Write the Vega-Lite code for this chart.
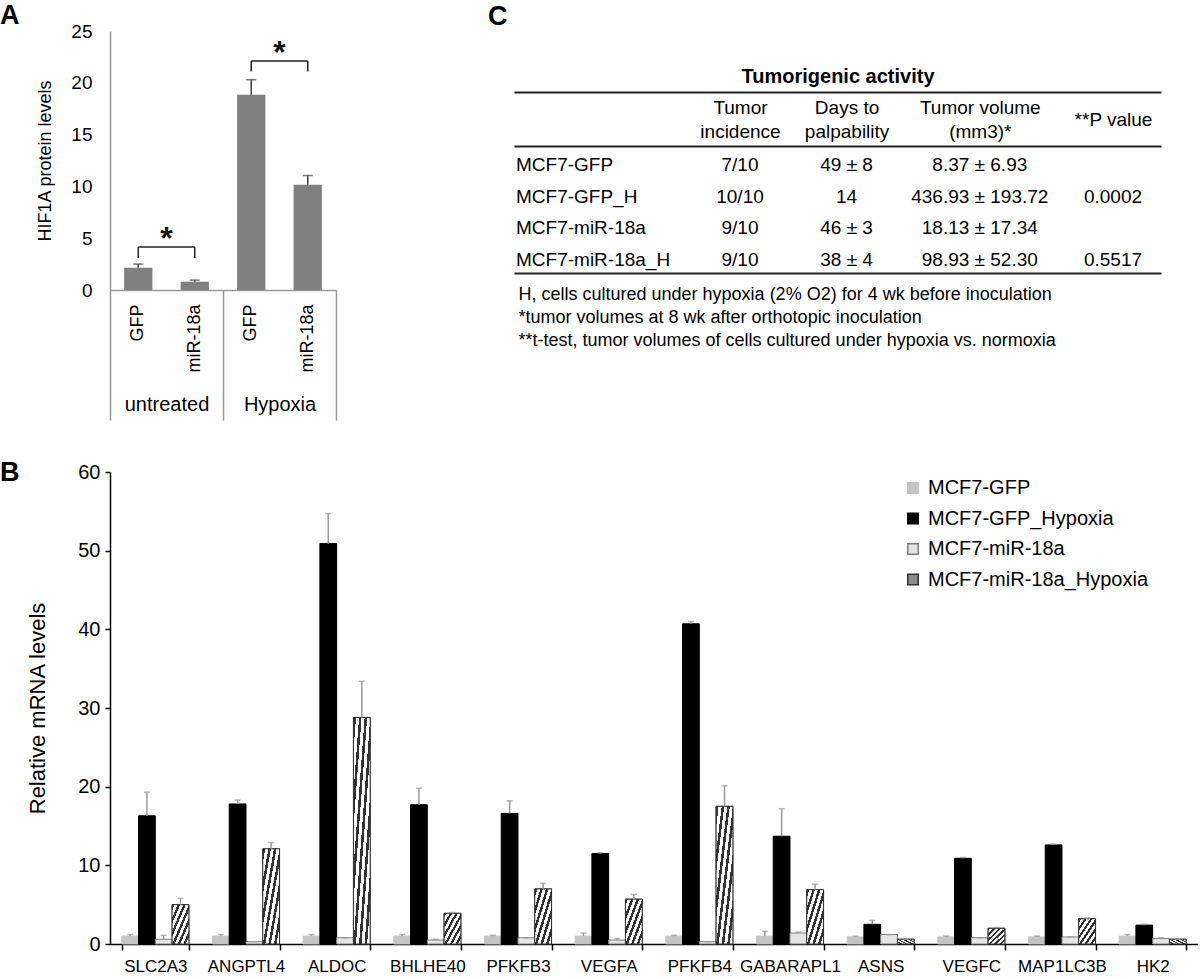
{
  "$schema": "https://vega.github.io/schema/vega-lite/v6.json",
  "padding": {"top": 2, "left": 0, "right": 0, "bottom": 0},
  "background": "white",
  "config": {
    "font": "Liberation Sans",
    "view": {"stroke": null},
    "axis": {"labelColor": "#000", "titleColor": "#000", "grid": false, "labelFont": "Liberation Sans", "titleFont": "Liberation Sans", "titleFontWeight": "normal"},
    "title": {"font": "Liberation Sans", "fontWeight": "bold", "fontSize": 27, "anchor": "start", "frame": "group", "color": "#000"}
  },
  "spacing": 38,
  "vconcat": [
    {
      "spacing": 151,
      "hconcat": [
        {
          "width": 226,
          "height": 259,
          "title": {"text": "A", "dx": -110, "offset": -8},
          "layer": [
            {
              "layer": [
                {
                  "data": {"values": [
                    {"key": "untreated|GFP", "value": 2.15, "hi": 2.5},
                    {"key": "untreated|miR-18a", "value": 0.8, "hi": 0.95},
                    {"key": "Hypoxia|GFP", "value": 18.85, "hi": 20.3},
                    {"key": "Hypoxia|miR-18a", "value": 10.15, "hi": 11.05}
                  ]},
                  "mark": {"type": "bar", "color": "#808080"},
                  "encoding": {
                    "x": {"field": "key", "type": "nominal", "sort": null,
                      "scale": {"domain": ["untreated|GFP", "untreated|miR-18a", "Hypoxia|GFP", "Hypoxia|miR-18a"], "paddingInner": 0.5, "paddingOuter": 0.25},
                      "axis": {"orient": "bottom", "title": null, "labelExpr": "split(datum.label, '|')[1]", "labelAngle": -90, "labelFontSize": 18, "labelPadding": 14, "ticks": false, "domainColor": "#999", "domainWidth": 1.5}},
                    "y": {"field": "value", "type": "quantitative", "scale": {"domain": [0, 25], "nice": false},
                      "axis": {"title": "HIF1A protein levels", "values": [0, 5, 10, 15, 20, 25], "ticks": false, "labelFontSize": 19, "labelPadding": 18, "titleFontSize": 18, "titlePadding": 16, "domainColor": "#999", "domainWidth": 1.5}}
                  }
                },
                {
                  "data": {"values": [
                    {"key": "untreated|GFP", "value": 2.15, "hi": 2.5},
                    {"key": "untreated|miR-18a", "value": 0.8, "hi": 0.95},
                    {"key": "Hypoxia|GFP", "value": 18.85, "hi": 20.3},
                    {"key": "Hypoxia|miR-18a", "value": 10.15, "hi": 11.05}
                  ]},
                  "mark": {"type": "rule", "color": "#404040", "strokeWidth": 1.5},
                  "encoding": {
                    "x": {"field": "key", "type": "nominal", "sort": null},
                    "y": {"field": "value", "type": "quantitative"},
                    "y2": {"field": "hi"}
                  }
                },
                {
                  "data": {"values": [
                    {"key": "untreated|GFP", "value": 2.15, "hi": 2.5},
                    {"key": "untreated|miR-18a", "value": 0.8, "hi": 0.95},
                    {"key": "Hypoxia|GFP", "value": 18.85, "hi": 20.3},
                    {"key": "Hypoxia|miR-18a", "value": 10.15, "hi": 11.05}
                  ]},
                  "mark": {"type": "tick", "color": "#404040", "thickness": 1.5, "size": 10},
                  "encoding": {
                    "x": {"field": "key", "type": "nominal", "sort": null},
                    "y": {"field": "hi", "type": "quantitative"}
                  }
                },
                {
                  "data": {"values": [
                    {"grp": "untreated", "from": "untreated|GFP", "to": "untreated|miR-18a", "top": 4.15, "bot": 3.1},
                    {"grp": "Hypoxia", "from": "Hypoxia|GFP", "to": "Hypoxia|miR-18a", "top": 22.1, "bot": 21.1}
                  ]},
                  "mark": {"type": "rule", "color": "#222", "strokeWidth": 1.5},
                  "encoding": {
                    "x": {"field": "from", "type": "nominal", "sort": null},
                    "x2": {"field": "to"},
                    "y": {"field": "top", "type": "quantitative"}
                  }
                },
                {
                  "data": {"values": [
                    {"grp": "untreated", "from": "untreated|GFP", "to": "untreated|miR-18a", "top": 4.15, "bot": 3.1},
                    {"grp": "Hypoxia", "from": "Hypoxia|GFP", "to": "Hypoxia|miR-18a", "top": 22.1, "bot": 21.1}
                  ]},
                  "mark": {"type": "rule", "color": "#222", "strokeWidth": 1.5},
                  "encoding": {
                    "x": {"field": "from", "type": "nominal", "sort": null},
                    "y": {"field": "top", "type": "quantitative"},
                    "y2": {"field": "bot"}
                  }
                },
                {
                  "data": {"values": [
                    {"grp": "untreated", "from": "untreated|GFP", "to": "untreated|miR-18a", "top": 4.15, "bot": 3.1},
                    {"grp": "Hypoxia", "from": "Hypoxia|GFP", "to": "Hypoxia|miR-18a", "top": 22.1, "bot": 21.1}
                  ]},
                  "mark": {"type": "rule", "color": "#222", "strokeWidth": 1.5},
                  "encoding": {
                    "x": {"field": "to", "type": "nominal", "sort": null},
                    "y": {"field": "top", "type": "quantitative"},
                    "y2": {"field": "bot"}
                  }
                }
              ]
            },
            {
              "data": {"values": [
                {"grp": "untreated", "star": 4.9},
                {"grp": "Hypoxia", "star": 22.9}
              ]},
              "mark": {"type": "text", "text": "*", "fontSize": 32, "fontWeight": "bold", "baseline": "middle", "color": "#111"},
              "encoding": {
                "x": {"field": "grp", "type": "nominal", "sort": null,
                  "scale": {"domain": ["untreated", "Hypoxia"], "paddingInner": 0, "paddingOuter": 0},
                  "axis": {"orient": "bottom", "title": null, "domain": false, "ticks": true, "tickBand": "extent", "tickSize": 130, "tickColor": "#999", "tickWidth": 1.5, "labelAngle": 0, "labelFontSize": 20, "labelPadding": -26}},
                "y": {"field": "star", "type": "quantitative"}
              }
            }
          ],
          "resolve": {"scale": {"x": "independent"}}
        },
        {
          "width": 647,
          "height": 242,
          "title": {"text": "C", "dx": -26, "offset": 0},
          "data": {"values": [
            {"row": "MCF7-GFP", "col": "inc", "text": "7/10"},
            {"row": "MCF7-GFP", "col": "days", "text": "49 ± 8"},
            {"row": "MCF7-GFP", "col": "vol", "text": "8.37 ± 6.93"},
            {"row": "MCF7-GFP", "col": "p", "text": ""},
            {"row": "MCF7-GFP_H", "col": "inc", "text": "10/10"},
            {"row": "MCF7-GFP_H", "col": "days", "text": "14"},
            {"row": "MCF7-GFP_H", "col": "vol", "text": "436.93 ± 193.72"},
            {"row": "MCF7-GFP_H", "col": "p", "text": "0.0002"},
            {"row": "MCF7-miR-18a", "col": "inc", "text": "9/10"},
            {"row": "MCF7-miR-18a", "col": "days", "text": "46 ± 3"},
            {"row": "MCF7-miR-18a", "col": "vol", "text": "18.13 ± 17.34"},
            {"row": "MCF7-miR-18a", "col": "p", "text": ""},
            {"row": "MCF7-miR-18a_H", "col": "inc", "text": "9/10"},
            {"row": "MCF7-miR-18a_H", "col": "days", "text": "38 ± 4"},
            {"row": "MCF7-miR-18a_H", "col": "vol", "text": "98.93 ± 52.30"},
            {"row": "MCF7-miR-18a_H", "col": "p", "text": "0.5517"}
          ]},
          "encoding": {
            "y": {"field": "row", "type": "nominal", "sort": null,
              "scale": {"type": "band", "domain": ["MCF7-GFP", "MCF7-GFP_H", "MCF7-miR-18a", "MCF7-miR-18a_H"], "range": [115, 242], "paddingInner": 0, "paddingOuter": 0},
              "axis": null}
          },
          "layer": [
            {
              "mark": {"type": "text", "fontSize": 19, "dy": 3, "color": "#000"},
              "encoding": {
                "x": {"field": "col", "type": "nominal",
                  "scale": {"type": "point", "domain": ["inc", "s1", "s2", "s3", "days", "s4", "s5", "s6", "s7", "vol", "s8", "s9", "s10", "s11", "p"], "range": [226, 599], "padding": 0},
                  "axis": {"orient": "top", "offset": -115, "values": ["inc", "days", "vol"], "labelExpr": "datum.value == 'inc' ? ['Tumor', 'incidence'] : datum.value == 'days' ? ['Days to', 'palpability'] : ['Tumor volume', '(mm3)*']", "labelFontSize": 19, "labelLineHeight": 24, "labelBaseline": "middle", "labelPadding": 39, "labelAngle": 0, "ticks": false, "domain": false, "title": null}},
                "text": {"field": "text"}
              }
            },
            {
              "mark": {"type": "text", "opacity": 0},
              "encoding": {
                "x": {"field": "col", "type": "nominal",
                  "scale": {"type": "point", "domain": ["inc", "s1", "s2", "s3", "days", "s4", "s5", "s6", "s7", "vol", "s8", "s9", "s10", "s11", "p"], "range": [226, 599], "padding": 0},
                  "axis": {"orient": "top", "offset": -115, "values": ["p"], "labelExpr": "'**P value'", "labelFontSize": 19, "labelBaseline": "middle", "labelPadding": 27, "labelAngle": 0, "ticks": false, "domain": false, "title": null}},
                "text": {"field": "text"}
              }
            },
            {
              "transform": [{"filter": "datum.col == 'inc'"}],
              "mark": {"type": "text", "fontSize": 19, "dy": 3, "dx": 2, "align": "left", "color": "#000"},
              "encoding": {
                "x": {"datum": "name", "type": "nominal", "scale": {"type": "point", "domain": ["name"], "padding": 0, "align": 0}, "axis": null},
                "text": {"field": "row"}
              }
            },
            {
              "mark": {"type": "text", "opacity": 0},
              "encoding": {
                "x": {"field": "col", "type": "nominal",
                  "axis": {"orient": "top", "offset": -115, "labels": false, "ticks": false, "domainColor": "#222", "domainWidth": 2, "title": null}},
                "text": {"field": "text"}
              }
            },
            {
              "mark": {"type": "text", "opacity": 0},
              "encoding": {
                "x": {"field": "col", "type": "nominal",
                  "axis": {"orient": "top", "offset": -61, "labels": false, "ticks": false, "domainColor": "#222", "domainWidth": 2, "title": "Tumorigenic activity", "titleFontSize": 20, "titleFontWeight": "bold", "titlePadding": 6}},
                "text": {"field": "text"}
              }
            },
            {
              "mark": {"type": "text", "opacity": 0},
              "encoding": {
                "x": {"field": "col", "type": "nominal",
                  "axis": {"orient": "bottom", "labels": false, "ticks": false, "domainColor": "#222", "domainWidth": 2,
                    "title": ["H, cells cultured under hypoxia (2% O2) for 4 wk before inoculation", "*tumor volumes at 8 wk after orthotopic inoculation", "**t-test, tumor volumes of cells cultured under hypoxia vs. normoxia"],
                    "titleAnchor": "start", "titleAlign": "left", "titleFontSize": 18, "titleLineHeight": 23, "titlePadding": 12, "titleX": 4}},
                "text": {"field": "text"}
              }
            }
          ],
          "resolve": {"scale": {"x": "independent"}, "axis": {"x": "independent"}}
        }
      ]
    },
    {
      "width": 1088,
      "height": 472,
      "title": {"text": "B", "dx": -110, "offset": -25},
      "data": {"values": [
        {"gene": "SLC2A3", "series": "MCF7-GFP", "value": 1.0, "hi": 1.2},
        {"gene": "SLC2A3", "series": "MCF7-GFP_Hypoxia", "value": 16.3, "hi": 19.3},
        {"gene": "SLC2A3", "series": "MCF7-miR-18a", "value": 0.6, "hi": 1.1},
        {"gene": "SLC2A3", "series": "MCF7-miR-18a_Hypoxia", "value": 5.0, "hi": 5.8},
        {"gene": "ANGPTL4", "series": "MCF7-GFP", "value": 1.0, "hi": 1.2},
        {"gene": "ANGPTL4", "series": "MCF7-GFP_Hypoxia", "value": 17.8, "hi": 18.3},
        {"gene": "ANGPTL4", "series": "MCF7-miR-18a", "value": 0.3, "hi": 0.3},
        {"gene": "ANGPTL4", "series": "MCF7-miR-18a_Hypoxia", "value": 12.1, "hi": 12.9},
        {"gene": "ALDOC", "series": "MCF7-GFP", "value": 1.0, "hi": 1.2},
        {"gene": "ALDOC", "series": "MCF7-GFP_Hypoxia", "value": 50.9, "hi": 54.7},
        {"gene": "ALDOC", "series": "MCF7-miR-18a", "value": 0.8, "hi": 0.8},
        {"gene": "ALDOC", "series": "MCF7-miR-18a_Hypoxia", "value": 28.8, "hi": 33.4},
        {"gene": "BHLHE40", "series": "MCF7-GFP", "value": 1.0, "hi": 1.2},
        {"gene": "BHLHE40", "series": "MCF7-GFP_Hypoxia", "value": 17.7, "hi": 19.8},
        {"gene": "BHLHE40", "series": "MCF7-miR-18a", "value": 0.5, "hi": 0.6},
        {"gene": "BHLHE40", "series": "MCF7-miR-18a_Hypoxia", "value": 3.9, "hi": 4.0},
        {"gene": "PFKFB3", "series": "MCF7-GFP", "value": 1.0, "hi": 1.1},
        {"gene": "PFKFB3", "series": "MCF7-GFP_Hypoxia", "value": 16.6, "hi": 18.2},
        {"gene": "PFKFB3", "series": "MCF7-miR-18a", "value": 0.8, "hi": 0.8},
        {"gene": "PFKFB3", "series": "MCF7-miR-18a_Hypoxia", "value": 7.0, "hi": 7.7},
        {"gene": "VEGFA", "series": "MCF7-GFP", "value": 1.0, "hi": 1.4},
        {"gene": "VEGFA", "series": "MCF7-GFP_Hypoxia", "value": 11.5, "hi": 11.6},
        {"gene": "VEGFA", "series": "MCF7-miR-18a", "value": 0.5, "hi": 0.7},
        {"gene": "VEGFA", "series": "MCF7-miR-18a_Hypoxia", "value": 5.7, "hi": 6.3},
        {"gene": "PFKFB4", "series": "MCF7-GFP", "value": 1.0, "hi": 1.1},
        {"gene": "PFKFB4", "series": "MCF7-GFP_Hypoxia", "value": 40.7, "hi": 41.0},
        {"gene": "PFKFB4", "series": "MCF7-miR-18a", "value": 0.3, "hi": 0.3},
        {"gene": "PFKFB4", "series": "MCF7-miR-18a_Hypoxia", "value": 17.5, "hi": 20.1},
        {"gene": "GABARAPL1", "series": "MCF7-GFP", "value": 1.0, "hi": 1.6},
        {"gene": "GABARAPL1", "series": "MCF7-GFP_Hypoxia", "value": 13.7, "hi": 17.2},
        {"gene": "GABARAPL1", "series": "MCF7-miR-18a", "value": 1.4, "hi": 1.5},
        {"gene": "GABARAPL1", "series": "MCF7-miR-18a_Hypoxia", "value": 6.9, "hi": 7.6},
        {"gene": "ASNS", "series": "MCF7-GFP", "value": 0.9, "hi": 1.0},
        {"gene": "ASNS", "series": "MCF7-GFP_Hypoxia", "value": 2.5, "hi": 3.0},
        {"gene": "ASNS", "series": "MCF7-miR-18a", "value": 1.2, "hi": 1.2},
        {"gene": "ASNS", "series": "MCF7-miR-18a_Hypoxia", "value": 0.6, "hi": 0.6},
        {"gene": "VEGFC", "series": "MCF7-GFP", "value": 0.9, "hi": 1.0},
        {"gene": "VEGFC", "series": "MCF7-GFP_Hypoxia", "value": 10.9, "hi": 11.0},
        {"gene": "VEGFC", "series": "MCF7-miR-18a", "value": 0.8, "hi": 0.8},
        {"gene": "VEGFC", "series": "MCF7-miR-18a_Hypoxia", "value": 2.0, "hi": 2.1},
        {"gene": "MAP1LC3B", "series": "MCF7-GFP", "value": 0.9, "hi": 1.0},
        {"gene": "MAP1LC3B", "series": "MCF7-GFP_Hypoxia", "value": 12.6, "hi": 12.7},
        {"gene": "MAP1LC3B", "series": "MCF7-miR-18a", "value": 0.9, "hi": 0.9},
        {"gene": "MAP1LC3B", "series": "MCF7-miR-18a_Hypoxia", "value": 3.2, "hi": 3.3},
        {"gene": "HK2", "series": "MCF7-GFP", "value": 1.0, "hi": 1.2},
        {"gene": "HK2", "series": "MCF7-GFP_Hypoxia", "value": 2.4, "hi": 2.5},
        {"gene": "HK2", "series": "MCF7-miR-18a", "value": 0.7, "hi": 0.8},
        {"gene": "HK2", "series": "MCF7-miR-18a_Hypoxia", "value": 0.6, "hi": 0.6}
      ]},
      "encoding": {
        "x": {"field": "gene", "type": "nominal", "sort": null,
          "scale": {"domain": ["SLC2A3", "ANGPTL4", "ALDOC", "BHLHE40", "PFKFB3", "VEGFA", "PFKFB4", "GABARAPL1", "ASNS", "VEGFC", "MAP1LC3B", "HK2"], "paddingInner": 0.26, "paddingOuter": 0.13},
          "axis": {"title": null, "labelAngle": 0, "labelFontSize": 17, "labelPadding": 8, "tickBand": "extent", "tickSize": 6, "tickColor": "#000", "tickWidth": 1.5, "domainColor": "#000", "domainWidth": 1.5}},
        "xOffset": {"field": "series", "type": "nominal", "sort": null,
          "scale": {"domain": ["MCF7-GFP", "MCF7-GFP_Hypoxia", "MCF7-miR-18a", "MCF7-miR-18a_Hypoxia"], "paddingInner": 0, "paddingOuter": 0}}
      },
      "layer": [
        {
          "mark": {"type": "bar", "strokeWidth": 1},
          "encoding": {
            "y": {"field": "value", "type": "quantitative", "scale": {"domain": [0, 60], "nice": false},
              "axis": {"title": "Relative mRNA levels", "values": [0, 10, 20, 30, 40, 50, 60], "titleFontSize": 22, "titlePadding": 28, "labelFontSize": 20, "labelPadding": 5, "tickSize": 5, "tickColor": "#000", "tickWidth": 1.5, "domainColor": "#000", "domainWidth": 1.5}},
            "fill": {
              "field": "series",
              "type": "nominal",
              "sort": null,
              "scale": {"domain": ["MCF7-GFP", "MCF7-GFP_Hypoxia", "MCF7-miR-18a", "MCF7-miR-18a_Hypoxia"], "range": ["#c4c4c4", "#000000", "#e4e4e4", "#8a8a8a"]},
              "legend": {
                "title": null, "orient": "none", "legendX": 793, "legendY": 447, "symbolType": "square", "symbolSize": 110, "labelFontSize": 20, "rowPadding": 10.5, "symbolStrokeWidth": 1.5, "labelOffset": 5, "labelLimit": 400, "labelColor": "#000",
                "encode": {
                  "symbols": {
                    "update": {
                      "fill": [
                        {"test": "datum.value === 'MCF7-miR-18a_Hypoxia'", "value": {"gradient": "linear", "x1": 0, "y1": 0, "x2": 1, "y2": 1, "stops": [
                          {"offset": 0, "color": "#333333"}, {"offset": 0.14, "color": "#333333"}, {"offset": 0.14, "color": "#ffffff"}, {"offset": 0.333, "color": "#ffffff"},
                          {"offset": 0.333, "color": "#333333"}, {"offset": 0.473, "color": "#333333"}, {"offset": 0.473, "color": "#ffffff"}, {"offset": 0.667, "color": "#ffffff"},
                          {"offset": 0.667, "color": "#333333"}, {"offset": 0.807, "color": "#333333"}, {"offset": 0.807, "color": "#ffffff"}, {"offset": 1, "color": "#ffffff"}
                        ]}},
                        {"test": "datum.value === 'MCF7-GFP'", "value": "#c4c4c4"},
                        {"test": "datum.value === 'MCF7-GFP_Hypoxia'", "value": "#000000"},
                        {"value": "#e4e4e4"}
                      ]
                    }
                  }
                }
              }
            },
            "stroke": {"field": "series", "type": "nominal", "sort": null,
              "scale": {"domain": ["MCF7-GFP", "MCF7-GFP_Hypoxia", "MCF7-miR-18a", "MCF7-miR-18a_Hypoxia"], "range": ["#c4c4c4", "#000000", "#808080", "#333333"]},
              "legend": {"title": null, "orient": "none", "legendX": 793, "legendY": 447, "symbolType": "square", "symbolSize": 110, "labelFontSize": 20, "rowPadding": 10.5, "symbolStrokeWidth": 1.5, "labelOffset": 5, "labelLimit": 400, "labelColor": "#000"}}
          }
        },
        {
          "transform": [{"filter": "datum.series == 'MCF7-miR-18a_Hypoxia'"}],
          "mark": {"type": "bar", "stroke": "#333333", "strokeWidth": 1,
            "fill": {"gradient": "linear", "x1": 0, "y1": 0, "x2": 1, "y2": 1, "stops": [
              {"offset": 0, "color": "#333333"}, {"offset": 0.075, "color": "#333333"}, {"offset": 0.075, "color": "#ffffff"}, {"offset": 0.1667, "color": "#ffffff"},
              {"offset": 0.1667, "color": "#333333"}, {"offset": 0.2417, "color": "#333333"}, {"offset": 0.2417, "color": "#ffffff"}, {"offset": 0.3333, "color": "#ffffff"},
              {"offset": 0.3333, "color": "#333333"}, {"offset": 0.4083, "color": "#333333"}, {"offset": 0.4083, "color": "#ffffff"}, {"offset": 0.5, "color": "#ffffff"},
              {"offset": 0.5, "color": "#333333"}, {"offset": 0.575, "color": "#333333"}, {"offset": 0.575, "color": "#ffffff"}, {"offset": 0.6667, "color": "#ffffff"},
              {"offset": 0.6667, "color": "#333333"}, {"offset": 0.7417, "color": "#333333"}, {"offset": 0.7417, "color": "#ffffff"}, {"offset": 0.8333, "color": "#ffffff"},
              {"offset": 0.8333, "color": "#333333"}, {"offset": 0.9083, "color": "#333333"}, {"offset": 0.9083, "color": "#ffffff"}, {"offset": 1, "color": "#ffffff"}
            ]}},
          "encoding": {
            "y": {"field": "value", "type": "quantitative"}
          }
        },
        {
          "mark": {"type": "rule", "color": "#999999", "strokeWidth": 1.5},
          "encoding": {
            "y": {"field": "value", "type": "quantitative"},
            "y2": {"field": "hi"}
          }
        },
        {
          "mark": {"type": "tick", "color": "#999999", "thickness": 1.5, "size": 6},
          "encoding": {
            "y": {"field": "hi", "type": "quantitative"}
          }
        }
      ]
    }
  ]
}
